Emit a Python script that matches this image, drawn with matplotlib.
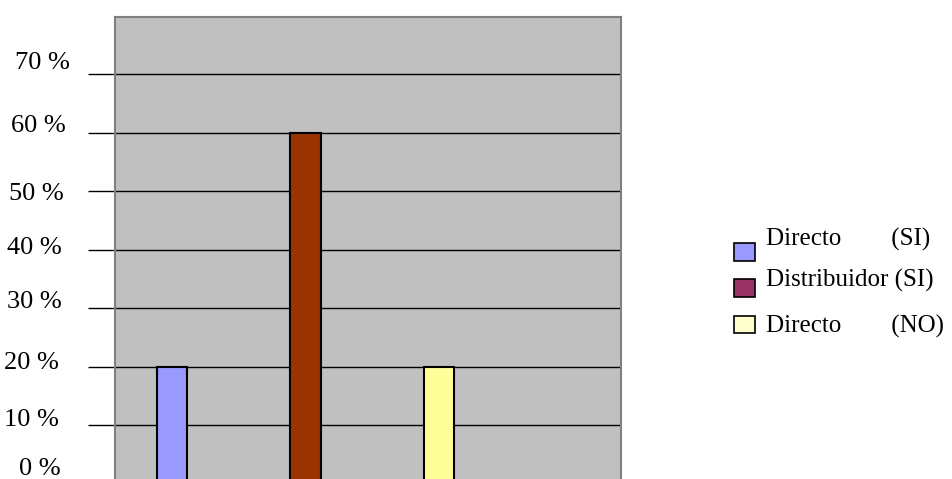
import matplotlib
matplotlib.use("Agg")
import matplotlib.pyplot as plt
import matplotlib.transforms as mtransforms
from matplotlib.patches import Patch

categories = ["Directo (SI)", "Distribuidor (SI)", "Directo (NO)"]
values = [20, 60, 20]
bar_colors = ["#9999FF", "#993300", "#FFFF99"]
legend_labels = ["Directo        (SI)", "Distribuidor (SI)", "Directo        (NO)"]
legend_colors = ["#9999FF", "#993366", "#FFFFCC"]
yticks = [0, 10, 20, 30, 40, 50, 60, 70]
yticklabels = ["0 %", "10 %", "20 %", "30 %", "40 %", "50 %", "60 %", "70 %"]

# layout tweaks (pixels): per tick label right edge and upward shift
label_right_px = [61, 59, 59, 62, 62, 64, 66, 70]
label_up_px = [17.5, 7.5, 6, 8.5, 4.5, 0, 9.5, 13.5]
legend_text_up_px = [15, 11, 1]

plt.rcParams['font.family'] = ['Liberation Serif', 'DejaVu Serif']

W, H = 952, 479
DPI = 100
fig = plt.figure(figsize=(W / DPI, H / DPI), dpi=DPI)
left_px, right_px, top_px, bottom_px = 115, 621, 17, 484
ax = fig.add_axes([left_px / W, (H - bottom_px) / H,
                   (right_px - left_px) / W, (bottom_px - top_px) / H])
ax.set_facecolor("#C0C0C0")

x = list(range(len(categories)))
ax.bar(x, values, width=0.225, color=bar_colors, edgecolor="black", linewidth=1.5, zorder=3)

ax.set_xlim(-0.427, 3.363)
ax.set_ylim(0, 79.8)
ax.set_yticks(yticks)
ax.set_yticklabels(yticklabels, fontsize=19)
ax.yaxis.grid(True, color="black", linewidth=1.0, zorder=1)
ax.set_axisbelow(True)
tick_len_px = left_px - 88
ax.tick_params(axis='y', direction='out', length=tick_len_px * 72 / DPI, width=1.0,
               color='black', pad=0)
ax.set_xticks([])

for lbl, rx, up in zip(ax.get_yticklabels(), label_right_px, label_up_px):
    off = mtransforms.ScaledTranslation((rx - 88) / DPI, up / DPI, fig.dpi_scale_trans)
    lbl.set_transform(lbl.get_transform() + off)

for side in ["left", "top", "right"]:
    ax.spines[side].set_color("#808080")
    ax.spines[side].set_linewidth(1.5)
ax.spines["bottom"].set_visible(False)

handles = [Patch(facecolor=c, edgecolor="black", linewidth=1.2) for c in legend_colors]
leg = fig.legend(handles, legend_labels, loc="center left",
                 bbox_to_anchor=(734 / W, (H - 291) / H),
                 frameon=False, fontsize=18, handlelength=0.85, handleheight=0.72,
                 handletextpad=0.45, labelspacing=0.52, borderpad=0, borderaxespad=0)
for t, up in zip(leg.get_texts(), legend_text_up_px):
    t.set_transform(t.get_transform() + mtransforms.ScaledTranslation(0, up / DPI, fig.dpi_scale_trans))

fig.savefig("out.png", dpi=DPI)
